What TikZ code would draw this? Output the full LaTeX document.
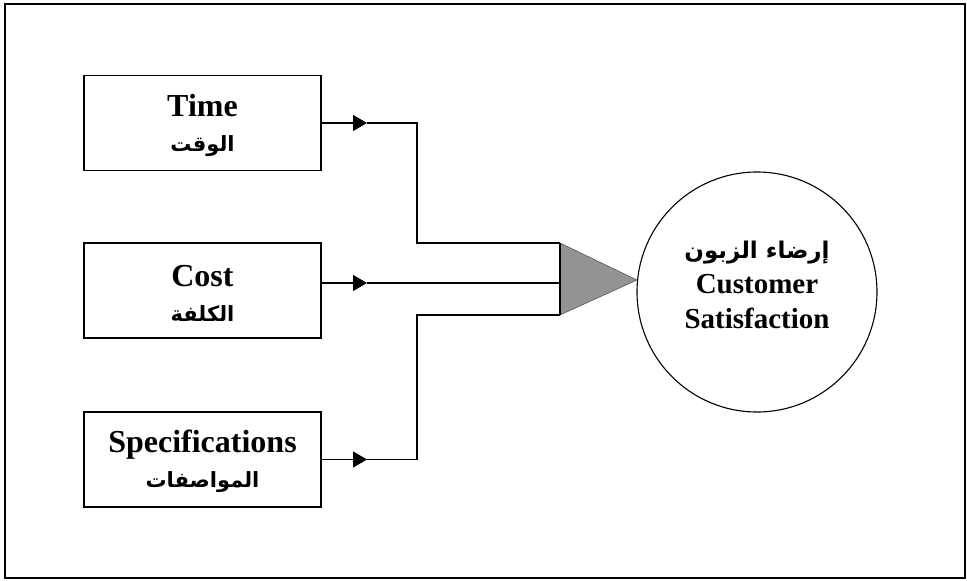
\documentclass[tikz,border=0pt]{standalone}
\usepackage{fontspec}
\setmainfont{Liberation Serif}
\newfontfamily\arabicfont[Script=Arabic]{DejaVu Sans}
\TeXXeTstate=1
\usetikzlibrary{arrows.meta}
\begin{document}
\begin{tikzpicture}[x=1pt,y=-1pt,
  inbox/.style={draw,line width=1.1pt,minimum width=237pt,minimum height=95pt,
     align=center,inner sep=0pt,font=\bfseries\fontsize{32}{35}\selectfont},
  line/.style={line width=1.1pt},
  arr/.style={line width=1.1pt,-{Triangle[length=14pt,width=16pt]}}]
\useasboundingbox (0,0) rectangle (967,581);
\draw[line width=1.4pt] (5,4) rectangle (965,578);
\node[inbox] (time) at (202.5,123) {\rule{0pt}{27pt}Time\\{\arabicfont\fontsize{21}{21}\selectfont\beginR الوقت\endR}};
\node[inbox] (cost) at (202.5,290.5) {\rule{0pt}{27pt}Cost\\{\arabicfont\fontsize{21}{21}\selectfont\beginR الكلفة\endR}};
\node[inbox] (spec) at (202.5,459.5) {\rule{0pt}{27pt}Specifications\\{\arabicfont\fontsize{21}{21}\selectfont\beginR المواصفات\endR}};
% triangle
\coordinate (tt) at (560,243);
\coordinate (tb) at (560,315);
\coordinate (tm) at (560,283);
\coordinate (tip) at (637,280);
\fill[gray!85] (tt) -- (tip) -- (tb) -- cycle;
\draw[gray!70!black,line width=0.6pt] (tt) -- (tip) -- (tb);
\draw[line] (tt) -- (tb);
% circle
\node[draw,circle,line width=1.1pt,minimum size=240pt,inner sep=0pt] (cs) at (757,292) {};
\node[align=center,inner sep=0pt,font=\bfseries\fontsize{29}{35}\selectfont] (cstext) at (757,285)
  {{\arabicfont\fontsize{23}{23}\selectfont\beginR إرضاء الزبون\endR}\\Customer\\Satisfaction};
% connectors
\coordinate (ta) at (367,123);
\coordinate (ca) at (367,283);
\coordinate (sa) at (367,459.5);
\draw[arr] (time.east |- ta) -- (ta);
\draw[line] (ta) -- (417,123) -- (417,243) -- (tt);
\draw[arr] (cost.east |- ca) -- (ca);
\draw[line] (ca) -- (tm);
\draw[arr] (spec.east |- sa) -- (sa);
\draw[line] (sa) -- (417,459.5) -- (417,315) -- (tb);
\end{tikzpicture}
\end{document}
